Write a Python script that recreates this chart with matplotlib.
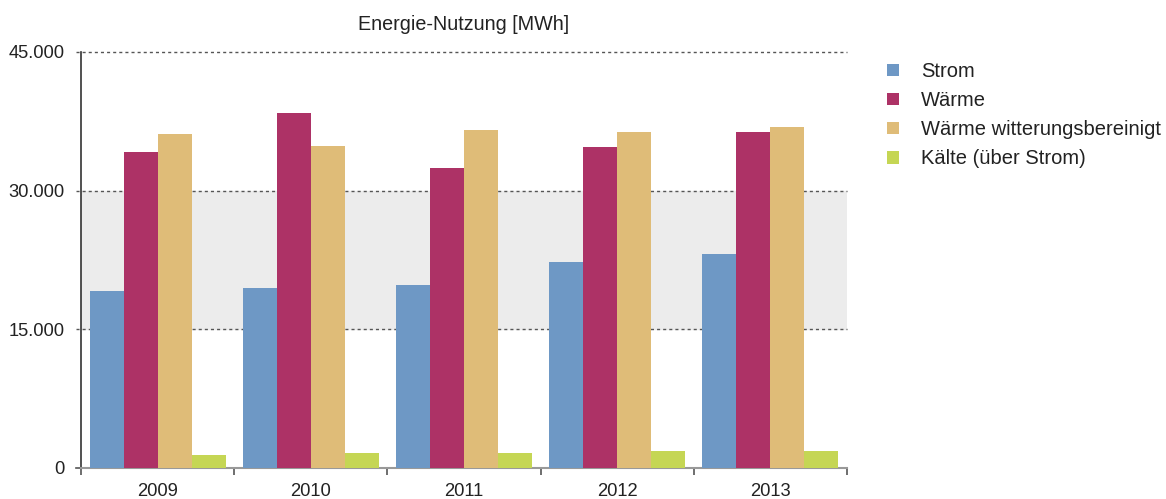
import numpy as np
import matplotlib.pyplot as plt
from matplotlib.patches import Patch
from matplotlib.transforms import blended_transform_factory

plt.rcParams['font.family'] = ['Liberation Sans', 'DejaVu Sans']

# data (MWh)
years = ['2009', '2010', '2011', '2012', '2013']
strom = [19200, 19500, 19800, 22300, 23200]
waerme = [34200, 38400, 32500, 34700, 36300]
waerme_wb = [36100, 34800, 36600, 36300, 36900]
kaelte = [1370, 1570, 1570, 1800, 1800]

series_names = ['Strom', 'Wärme', 'Wärme witterungsbereinigt', 'Kälte (über Strom)']
colors = ['#6e98c5', '#ad3266', '#dfbc78', '#c5d654']
yticks = [0, 15000, 30000, 45000]
ytick_labels = ['0', '15.000', '30.000', '45.000']

fig = plt.figure(figsize=(11.66, 4.99), dpi=100)
ax = fig.add_axes([81 / 1166, 1 - 468 / 499, (847 - 81) / 1166, (468 - 52) / 499])

x = np.arange(len(years))
bw = 0.222
for i, (vals, c) in enumerate(zip([strom, waerme, waerme_wb, kaelte], colors)):
    ax.bar(x + (i - 1.5) * bw, vals, width=bw, color=c, zorder=3, linewidth=0)

ax.set_xlim(-0.5, len(years) - 0.5)
ax.set_ylim(0, 45000)

# grey band and dotted grid lines
ax.axhspan(15000, 30000, color='#ececec', zorder=0)
trans = blended_transform_factory(ax.transAxes, ax.transData)
for yv in yticks[1:]:
    ax.plot([-0.006, 1], [yv, yv], transform=trans, color='#555555', lw=1.0,
            ls=(0, (2.2, 2.2)), clip_on=False, zorder=1)

ax.set_yticks(yticks)
ax.set_yticklabels(ytick_labels, fontsize=13.2, color='#222222')
ax.tick_params(axis='y', length=0, pad=12)

ax.set_xticks(np.arange(len(years) + 1) - 0.5)
ax.set_xticklabels([])
ax.set_xticks(x, minor=True)
ax.set_xticklabels(years, minor=True, fontsize=13.2, color='#222222')
ax.tick_params(axis='x', which='major', length=5, color='#555555', width=1.2, direction='out')
ax.tick_params(axis='x', which='minor', length=0, pad=11)
# small tick at the zero line on the left
ax.plot([-0.006, 0], [0, 0], transform=trans, color='#555555', lw=1.2, clip_on=False)

for s in ['top', 'right']:
    ax.spines[s].set_visible(False)
ax.spines['left'].set_color('#333333')
ax.spines['left'].set_linewidth(1.2)
ax.spines['bottom'].set_color('#999999')
ax.spines['bottom'].set_linewidth(1.5)

ax.set_title('Energie-Nutzung [MWh]', fontsize=14.2, color='#222222', pad=16)

handles = [Patch(facecolor=c, edgecolor='none', label=n) for n, c in zip(series_names, colors)]
fig.legend(handles=handles, loc='upper left', bbox_to_anchor=(887 / 1166, 1 - 62 / 499),
           frameon=False, fontsize=14.5, borderpad=0, borderaxespad=0,
           handlelength=0.6, handleheight=0.6, handletextpad=1.1,
           labelspacing=0.5, labelcolor='#222222')

fig.savefig('out.png', dpi=100)
